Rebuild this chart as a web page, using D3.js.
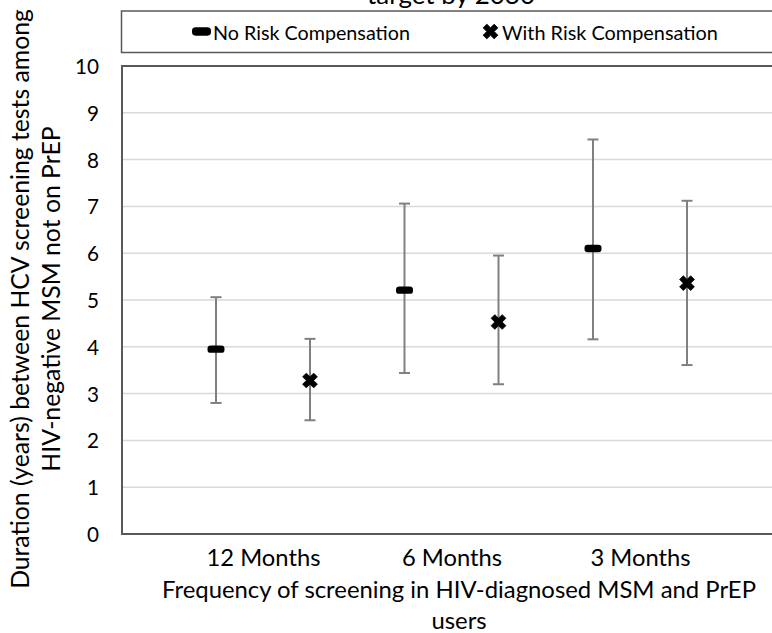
<!DOCTYPE html>
<html>
<head>
<meta charset="utf-8">
<script src="https://cdn.jsdelivr.net/npm/d3@7"></script>
<style>
  html, body { margin: 0; padding: 0; background: #fff; }
  svg { display: block; font-family: Lato, "Open Sans", sans-serif; }
</style>
</head>
<body>
<svg id="chart" width="772" height="633"></svg>
<script>
// Screening frequencies (x categories)
const categories = ["12 Months", "6 Months", "3 Months"];
const seriesNames = ["No Risk Compensation", "With Risk Compensation"];

// Duration (years) between HCV screening tests: point estimate and interval
const noRiskMid   = [3.95, 5.21, 6.10];
const noRiskLow   = [2.80, 3.44, 4.16];
const noRiskHigh  = [5.06, 7.06, 8.43];
const withRiskMid  = [3.28, 4.53, 5.36];
const withRiskLow  = [2.43, 3.20, 3.61];
const withRiskHigh = [4.17, 5.95, 7.12];

const yTicks = [0, 1, 2, 3, 4, 5, 6, 7, 8, 9, 10];

const series = [
  { name: seriesNames[0], mid: noRiskMid, low: noRiskLow, high: noRiskHigh, shape: "dash" },
  { name: seriesNames[1], mid: withRiskMid, low: withRiskLow, high: withRiskHigh, shape: "cross" }
];

const svg = d3.select("#chart");

// plot area (runs on past the right edge of the canvas)
const plot = { left: 122, top: 66, right: 830, bottom: 534 };

const y = d3.scaleLinear().domain([0, 10]).range([plot.bottom, plot.top]);
const x = d3.scalePoint().domain(categories).range([263, 640]);
const xOff = d3.scalePoint().domain(seriesNames).range([-47, 47]);

const axisColor = "#595959";
const barColor = "#808080";
const textColor = "#000";

// scale a text's font size so it spans the given width
function fitWidth(sel, width) {
  const len = sel.node().getComputedTextLength();
  const fs = parseFloat(sel.attr("font-size"));
  const size = fs * width / len;
  sel.attr("font-size", size);
  return size;
}

function drawMarker(g, shape, cx, cy, s) {
  if (shape === "dash") {
    g.append("rect")
      .attr("x", cx - 8.5 * s).attr("y", cy - 3.7 * s)
      .attr("width", 17 * s).attr("height", 7.4 * s)
      .attr("rx", 3.2 * s)
      .attr("fill", "#000");
  } else {
    g.append("path")
      .attr("d", d3.symbol(d3.symbolCross, 135 * s * s)())
      .attr("transform", `translate(${cx},${cy}) rotate(45)`)
      .attr("fill", "#000")
      .attr("stroke", "#000").attr("stroke-width", 0.8).attr("stroke-linejoin", "round");
  }
}

// title line, mostly above the canvas
const title = svg.append("text")
  .attr("x", 451).attr("y", 4)
  .attr("text-anchor", "middle")
  .attr("font-size", 24)
  .attr("fill", textColor)
  .text("target by 2030");
fitWidth(title, 168);

// legend box
const legend = svg.append("g");
legend.append("rect")
  .attr("x", 121.5).attr("y", 11)
  .attr("width", 720).attr("height", 41.5)
  .attr("fill", "#fff").attr("stroke", axisColor).attr("stroke-width", 1.5);

const legendItems = [
  { shape: "dash", mx: 201.5, tx: 213, w: 197, s: 1.12 },
  { shape: "cross", mx: 490.5, tx: 502, w: 216, s: 1.0 }
];
legendItems.forEach((it, i) => {
  drawMarker(legend, it.shape, it.mx, 31.5, it.s);
  const t = legend.append("text")
    .attr("x", it.tx).attr("y", 39.5)
    .attr("font-size", 20)
    .attr("fill", textColor)
    .text(seriesNames[i]);
  fitWidth(t, it.w);
});

// horizontal gridlines
svg.append("g").selectAll("line")
  .data(yTicks.filter(t => t > 0 && t < 10))
  .join("line")
  .attr("x1", plot.left).attr("x2", plot.right)
  .attr("y1", d => y(d)).attr("y2", d => y(d))
  .attr("stroke", "#d9d9d9").attr("stroke-width", 1.5);

// plot border: top, left, bottom
svg.append("path")
  .attr("d", `M${plot.right},${plot.top}H${plot.left}V${plot.bottom}H${plot.right}`)
  .attr("fill", "none").attr("stroke", axisColor).attr("stroke-width", 2);

// y axis tick labels
const yAxis = d3.axisLeft(y).tickValues(yTicks).tickSize(0).tickPadding(23);
const yg = svg.append("g").attr("transform", `translate(${plot.left},0)`).call(yAxis);
yg.select(".domain").remove();
const yLabels = yg.selectAll("text")
  .attr("font-family", "Lato, sans-serif").attr("font-size", 20)
  .attr("fill", textColor).attr("dy", "0.36em");
const tenSize = fitWidth(yg.selectAll("text").filter(d => d === 10), 24);
yLabels.attr("font-size", tenSize);

// x axis category labels
const xAxis = d3.axisBottom(x).tickSize(0);
const xg = svg.append("g").attr("transform", `translate(0,${plot.bottom})`).call(xAxis);
xg.select(".domain").remove();
const xLabels = xg.selectAll("text")
  .attr("font-family", "Lato, sans-serif").attr("font-size", 20)
  .attr("fill", textColor).attr("dy", null).attr("y", 32);
const catSize = fitWidth(xg.selectAll("text").filter(d => d === "12 Months"), 114);
xLabels.attr("font-size", catSize);

// axis titles
const xt1 = svg.append("text")
  .attr("x", 459).attr("y", 598)
  .attr("text-anchor", "middle")
  .attr("font-size", 22).attr("fill", textColor)
  .text("Frequency of screening in HIV-diagnosed MSM and PrEP");
const xtSize = fitWidth(xt1, 594);
svg.append("text")
  .attr("x", 459).attr("y", 629)
  .attr("text-anchor", "middle")
  .attr("font-size", xtSize).attr("fill", textColor)
  .text("users");

const yTitle = svg.append("text")
  .attr("transform", "translate(0,299) rotate(-90)")
  .attr("text-anchor", "middle")
  .attr("font-size", 22).attr("fill", textColor);
const yt1 = yTitle.append("tspan").attr("x", 0).attr("y", 29)
  .text("Duration (years) between HCV screening tests among");
const ytLen = yt1.node().getComputedTextLength();
yTitle.attr("font-size", 22 * 580 / ytLen);
yTitle.append("tspan").attr("x", 0).attr("y", 60)
  .text("HIV-negative MSM not on PrEP");

// error bars and markers
const marks = svg.append("g");
series.forEach(s => {
  const g = marks.append("g");
  categories.forEach((c, i) => {
    const cx = x(c) + xOff(s.name);
    g.append("line")
      .attr("x1", cx).attr("x2", cx)
      .attr("y1", y(s.low[i])).attr("y2", y(s.high[i]))
      .attr("stroke", barColor).attr("stroke-width", 2);
    [s.low[i], s.high[i]].forEach(v => {
      g.append("line")
        .attr("x1", cx - 5.5).attr("x2", cx + 5.5)
        .attr("y1", y(v)).attr("y2", y(v))
        .attr("stroke", barColor).attr("stroke-width", 2);
    });
    drawMarker(g, s.shape, cx, y(s.mid[i]), 1);
  });
});
</script>
</body>
</html>
